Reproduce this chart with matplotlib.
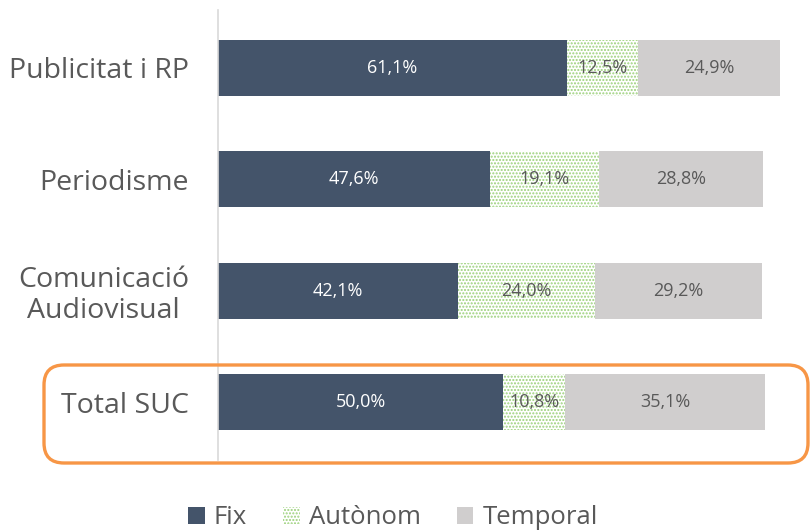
import matplotlib
matplotlib.use("Agg")
import matplotlib.pyplot as plt
import matplotlib.patches as mpatches
from matplotlib.transforms import IdentityTransform

plt.rcParams['font.family'] = ['Open Sans', 'DejaVu Sans']
plt.rcParams['hatch.linewidth'] = 1.0

# data
categories = ['Publicitat i RP', 'Periodisme', 'Comunicació\nAudiovisual', 'Total SUC']
fix = [61.1, 47.6, 42.1, 50.0]
autonom = [12.5, 19.1, 24.0, 10.8]
temporal = [24.9, 28.8, 29.2, 35.1]
series_names = ['Fix', 'Autònom', 'Temporal']

c_fix = '#44546a'
c_aut = '#9bd17a'
c_tmp = '#d0cece'
c_txt = '#595959'

fig = plt.figure(figsize=(8.11, 5.30), dpi=100)
ax = fig.add_axes([218 / 811, 70 / 530, (788.5 - 218) / 811, 450 / 530])

y = list(range(len(categories)))
left2 = [a + b for a, b in zip(fix, autonom)]

b1 = ax.barh(y, fix, height=0.5, color=c_fix, label=series_names[0])
b2 = ax.barh(y, autonom, left=fix, height=0.5, color='white', edgecolor=c_aut,
             hatch='.....', linewidth=0, label=series_names[1])
b3 = ax.barh(y, temporal, left=left2, height=0.5, color=c_tmp, label=series_names[2])

fmt = lambda v: f"{v:.1f}%".replace('.', ',')
for i in y:
    ax.text(fix[i] / 2, i, fmt(fix[i]), ha='center', va='center', color='white', fontsize=13)
    ax.text(fix[i] + autonom[i] / 2, i, fmt(autonom[i]), ha='center', va='center',
            color=c_txt, fontsize=13)
    ax.text(left2[i] + temporal[i] / 2, i, fmt(temporal[i]), ha='center', va='center',
            color=c_txt, fontsize=13)

ax.set_xlim(0, 100)
ax.set_ylim(3.52, -0.52)
ax.set_yticks(y)
ax.set_yticklabels(categories, fontsize=20.5, color=c_txt, multialignment='center',
                   linespacing=1.15)
ax.tick_params(axis='y', length=0, pad=21)
ax.set_xticks([])
for s in ['top', 'right', 'bottom']:
    ax.spines[s].set_visible(False)
ax.spines['left'].set_color('#d9d9d9')
ax.spines['left'].set_linewidth(1.2)

leg = fig.legend(handles=[b1, b2, b3], labels=series_names, loc='center',
                 bbox_to_anchor=(393 / 811, 1 - 518 / 530), ncol=3, frameon=False,
                 fontsize=18.5, handlelength=0.65, handleheight=0.65, handletextpad=0.35,
                 columnspacing=1.4)
for t in leg.get_texts():
    t.set_color(c_txt)

# highlight box around Total SUC
box = mpatches.FancyBboxPatch((44, 530 - 463), 764, 98,
                              boxstyle="round,pad=0,rounding_size=20",
                              transform=IdentityTransform(), fill=False,
                              edgecolor='#f79646', linewidth=2.4, clip_on=False)
fig.add_artist(box)

fig.savefig('out.png', dpi=100)
